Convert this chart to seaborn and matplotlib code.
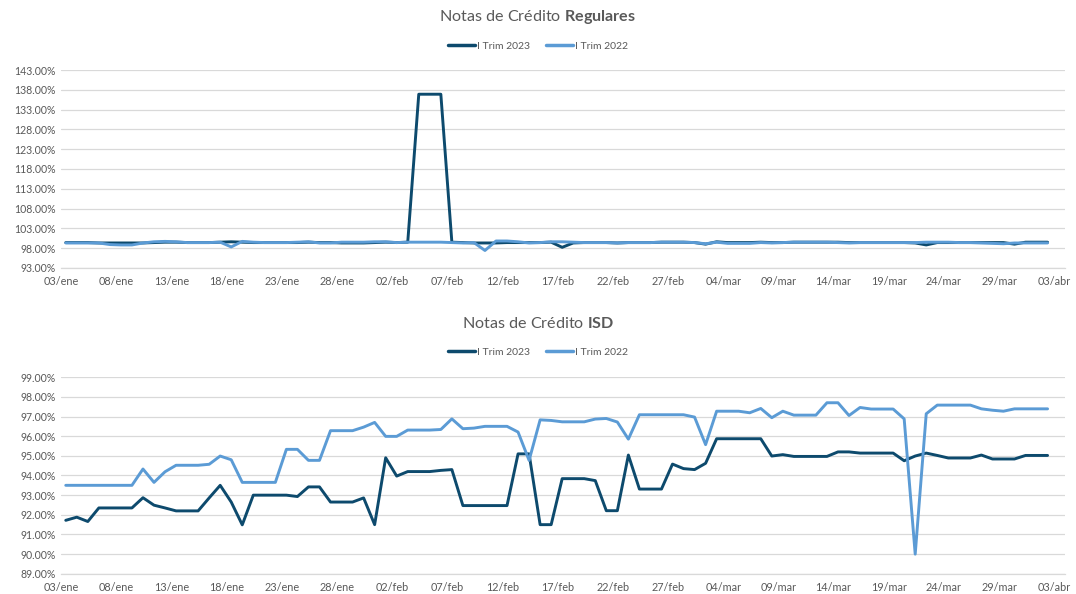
import numpy as np
import pandas as pd
import matplotlib
matplotlib.use("Agg")
import matplotlib.pyplot as plt
import seaborn as sns
from matplotlib.ticker import FuncFormatter, FixedLocator

# ── data ─────────────────────────────────────────────────────
start_date = "2023-01-03"
n_days = 90
series_names = ["I Trim 2023", "I Trim 2022"]
series_colors = ["#0d4a6d", "#5b9bd5"]
month_abbr = {1: "ene", 2: "feb", 3: "mar", 4: "abr"}

reg_2023 = [99.4, 99.4, 99.4, 99.3, 99.3, 99.3, 99.3, 99.3, 99.4, 99.5,
            99.5, 99.4, 99.4, 99.4, 99.5, 99.6, 99.5, 99.4, 99.4, 99.4,
            99.4, 99.4, 99.5, 99.4, 99.4, 99.3, 99.3, 99.3, 99.4, 99.5,
            99.4, 99.5, 136.9, 136.9, 136.9, 99.5, 99.4, 99.3, 99.3, 99.3,
            99.4, 99.4, 99.4, 99.4, 99.5, 98.2, 99.3, 99.4, 99.4, 99.4,
            99.3, 99.4, 99.4, 99.4, 99.5, 99.5, 99.5, 99.4, 99.0, 99.6,
            99.4, 99.4, 99.4, 99.5, 99.4, 99.4, 99.5, 99.5, 99.5, 99.5,
            99.5, 99.4, 99.4, 99.4, 99.4, 99.4, 99.4, 99.3, 98.8, 99.4,
            99.4, 99.4, 99.4, 99.4, 99.4, 99.4, 99.0, 99.5, 99.5, 99.5]

reg_2022 = [99.3, 99.3, 99.3, 99.3, 98.9, 98.8, 98.8, 99.3, 99.6, 99.7,
            99.6, 99.4, 99.4, 99.4, 99.5, 98.3, 99.7, 99.5, 99.4, 99.4,
            99.4, 99.5, 99.6, 99.3, 99.3, 99.5, 99.5, 99.5, 99.6, 99.6,
            99.4, 99.5, 99.5, 99.5, 99.5, 99.4, 99.3, 99.4, 97.4, 99.8,
            99.8, 99.6, 99.3, 99.4, 99.6, 99.6, 99.5, 99.4, 99.4, 99.4,
            99.3, 99.4, 99.4, 99.4, 99.5, 99.5, 99.5, 99.4, 99.1, 99.5,
            99.2, 99.2, 99.2, 99.4, 99.3, 99.4, 99.5, 99.5, 99.5, 99.5,
            99.4, 99.3, 99.4, 99.4, 99.4, 99.4, 99.4, 99.4, 99.5, 99.5,
            99.5, 99.4, 99.4, 99.3, 99.2, 99.1, 99.3, 99.3, 99.3, 99.3]

isd_2023 = [91.72, 91.88, 91.66, 92.35, 92.35, 92.35, 92.35, 92.87, 92.49, 92.35,
            92.20, 92.20, 92.20, 92.86, 93.50, 92.65, 91.49, 93.00, 93.00, 93.00,
            93.00, 92.93, 93.42, 93.42, 92.65, 92.65, 92.65, 92.86, 91.50, 94.90,
            93.97, 94.20, 94.20, 94.20, 94.26, 94.30, 92.47, 92.47, 92.47, 92.47,
            92.47, 95.10, 95.10, 91.50, 91.50, 93.84, 93.84, 93.84, 93.74, 92.21,
            92.21, 95.04, 93.31, 93.31, 93.31, 94.58, 94.35, 94.30, 94.62, 95.87,
            95.87, 95.87, 95.87, 95.87, 94.99, 95.06, 94.97, 94.97, 94.97, 94.97,
            95.20, 95.20, 95.14, 95.14, 95.14, 95.14, 94.75, 94.99, 95.14, 95.02,
            94.89, 94.89, 94.89, 95.04, 94.84, 94.84, 94.84, 95.02, 95.02, 95.02]

isd_2022 = [93.50, 93.50, 93.50, 93.50, 93.50, 93.50, 93.50, 94.33, 93.65, 94.19,
            94.52, 94.52, 94.52, 94.57, 94.99, 94.80, 93.65, 93.65, 93.65, 93.65,
            95.33, 95.33, 94.77, 94.77, 96.28, 96.28, 96.28, 96.46, 96.70, 95.99,
            95.99, 96.31, 96.31, 96.31, 96.34, 96.88, 96.38, 96.41, 96.50, 96.50,
            96.50, 96.21, 94.77, 96.83, 96.80, 96.73, 96.73, 96.73, 96.87, 96.90,
            96.72, 95.85, 97.09, 97.09, 97.09, 97.09, 97.09, 96.97, 95.57, 97.27,
            97.27, 97.27, 97.19, 97.41, 96.94, 97.27, 97.07, 97.07, 97.07, 97.70,
            97.70, 97.05, 97.46, 97.38, 97.38, 97.38, 96.88, 90.00, 97.14, 97.58,
            97.58, 97.58, 97.58, 97.39, 97.32, 97.27, 97.39, 97.39, 97.39, 97.39]

reg_yticks = [93, 98, 103, 108, 113, 118, 123, 128, 133, 138, 143]
isd_yticks = [89, 90, 91, 92, 93, 94, 95, 96, 97, 98, 99]

# ── style ────────────────────────────────────────────────────
sns.set_theme(style="white")
plt.rcParams["font.family"] = ["Lato", "DejaVu Sans"]
plt.rcParams["mathtext.fontset"] = "custom"
plt.rcParams["mathtext.rm"] = "Lato"
plt.rcParams["mathtext.bf"] = "Lato:bold"
TXT = "#595959"
GRID = "#d9d9d9"

day = np.arange(n_days)
dates = pd.date_range(start_date, periods=n_days + 1)
tick_days = np.arange(0, n_days + 1, 5)
tick_labels = [f"{d.day:02d}/{month_abbr[d.month]}" for d in dates[tick_days]]
shift = -0.4  # date-axis ticks sit slightly before the plotted points


def draw(ax, y2023, y2022, yticks, title_rest, title_y, legend_y):
    df = pd.DataFrame({
        "dia": np.concatenate([day, day]),
        "valor": np.concatenate([y2023, y2022]),
        "serie": [series_names[0]] * n_days + [series_names[1]] * n_days,
    })
    sns.lineplot(data=df, x="dia", y="valor", hue="serie",
                 palette=series_colors, linewidth=2.1, ax=ax,
                 hue_order=series_names)
    ax.set_xlim(shift, n_days + 1 + shift)
    ax.set_ylim(yticks[0], yticks[-1])
    ax.yaxis.set_major_locator(FixedLocator(yticks))
    ax.yaxis.set_major_formatter(FuncFormatter(lambda v, p: f"{v:.2f}%"))
    ax.set_xticks(tick_days + shift)
    ax.set_xticklabels(tick_labels)
    ax.set_xlabel(""); ax.set_ylabel("")
    ax.grid(axis="y", color=GRID, linewidth=0.9)
    ax.set_axisbelow(True)
    for s in ["top", "right", "left"]:
        ax.spines[s].set_visible(False)
    ax.spines["bottom"].set_color(GRID)
    ax.spines["bottom"].set_linewidth(0.9)
    ax.tick_params(axis="x", length=4, color=GRID, width=0.9,
                   labelsize=7.8, labelcolor=TXT, pad=2)
    ax.tick_params(axis="y", length=0, labelsize=7.6, labelcolor=TXT, pad=4)
    ax.get_legend().remove()
    handles, labels = ax.get_legend_handles_labels()
    ax.legend(handles, labels, loc="center", ncol=2, frameon=False,
              bbox_to_anchor=(0.5, legend_y), bbox_transform=fig.transFigure,
              fontsize=7.5, labelcolor=TXT, handlelength=2.6,
              handletextpad=0.15, columnspacing=1.6)
    for h in ax.get_legend().get_lines():
        h.set_linewidth(2.5)
    fig.text(0.5, title_y, "Notas de Crédito " + title_rest,
             ha="center", va="center", fontsize=11.6, color=TXT)


fig = plt.figure(figsize=(10.76, 5.94), dpi=100)
ax1 = fig.add_axes([0.057, 0.549, 0.933, 0.333])
ax2 = fig.add_axes([0.057, 0.034, 0.933, 0.331])

draw(ax1, reg_2023, reg_2022, reg_yticks, r"$\mathbf{Regulares}$", 0.971, 0.922)
draw(ax2, isd_2023, isd_2022, isd_yticks, r"$\mathbf{ISD}$", 0.456, 0.407)

fig.savefig("out.png", dpi=100)
plt.close()
